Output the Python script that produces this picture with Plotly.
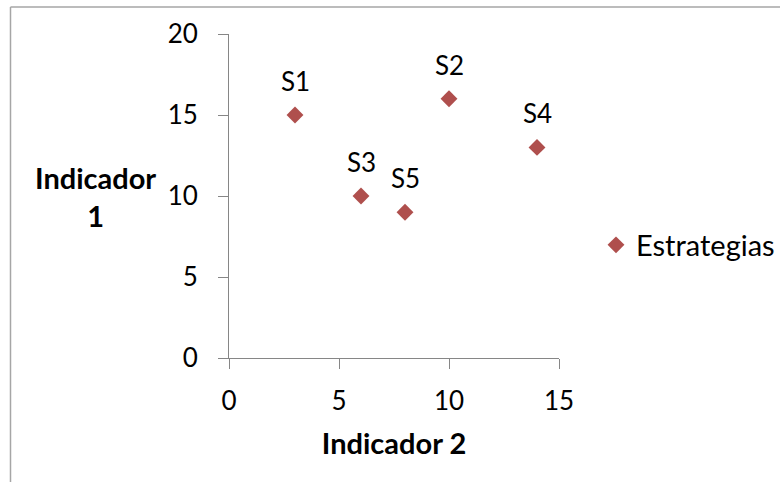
import plotly.graph_objects as go

# Data
labels = ["S1", "S2", "S3", "S4", "S5"]
indicador2 = [3, 10, 6, 14, 8]     # x
indicador1 = [15, 16, 10, 13, 9]   # y
series_name = "Estrategias"

x_ticks = [0, 5, 10, 15]
y_ticks = [0, 5, 10, 15, 20]

FONT = "Lato"
AX = "#868686"
MARK = "#AF4F4D"

fig = go.Figure()
fig.add_trace(go.Scatter(
    x=indicador2, y=indicador1, mode="markers",
    name=series_name,
    marker=dict(symbol="diamond", size=13, color=MARK, line=dict(width=0)),
    cliponaxis=False,
))

L, R, T, B = 229, 780 - 559, 34, 482 - 358
W, H = 780 - L - R, 482 - T - B

label_annots = [
    dict(text=t, x=xv, y=yv, xref="x", yref="y", showarrow=False,
         xanchor="center", yanchor="middle", yshift=34,
         font=dict(family=FONT, size=26, color="#000000"))
    for t, xv, yv in zip(labels, indicador2, indicador1)
]

fig.update_layout(
    width=780, height=482,
    margin=dict(l=L, r=R, t=T, b=B, autoexpand=False),
    paper_bgcolor="white", plot_bgcolor="white",
    font=dict(family=FONT, size=26, color="#000000"),
    showlegend=True,
    legend=dict(x=(596 - L) / W, y=(358 - 245) / H, xanchor="left", yanchor="middle",
                font=dict(family=FONT, size=29), bgcolor="rgba(0,0,0,0)"),
    xaxis=dict(range=[0, 15], tickvals=x_ticks, showgrid=False, zeroline=False,
               showline=True, linecolor=AX, linewidth=1, ticks="outside", ticklen=10,
               tickcolor=AX, tickfont=dict(family=FONT, size=26),
               ticklabelstandoff=10,
               title=dict(text="<b>Indicador 2</b>", font=dict(family=FONT, size=29), standoff=18)),
    yaxis=dict(range=[0, 20], tickvals=y_ticks, showgrid=False, zeroline=False,
               showline=True, linecolor=AX, linewidth=1, ticks="outside", ticklen=10,
               tickcolor=AX, tickfont=dict(family=FONT, size=26),
               ticklabelstandoff=15),
    annotations=label_annots + [
        dict(text="<b>Indicador<br>1</b>", xref="paper", yref="y",
             x=(95 - L) / W, y=10, xanchor="center", yanchor="middle",
             showarrow=False, font=dict(family=FONT, size=29, color="#000000"))],
    shapes=[
        dict(type="line", xref="paper", yref="paper", x0=(10.5 - L) / W, x1=(10.5 - L) / W,
             y0=(358 - 7) / H, y1=(358 - 500) / H, line=dict(color="#A6A6A6", width=1.5)),
        dict(type="line", xref="paper", yref="paper", x0=(10.5 - L) / W, x1=(800 - L) / W,
             y0=(358 - 7) / H, y1=(358 - 7) / H, line=dict(color="#A6A6A6", width=1.5)),
    ],
)

fig.write_html("out.html")
